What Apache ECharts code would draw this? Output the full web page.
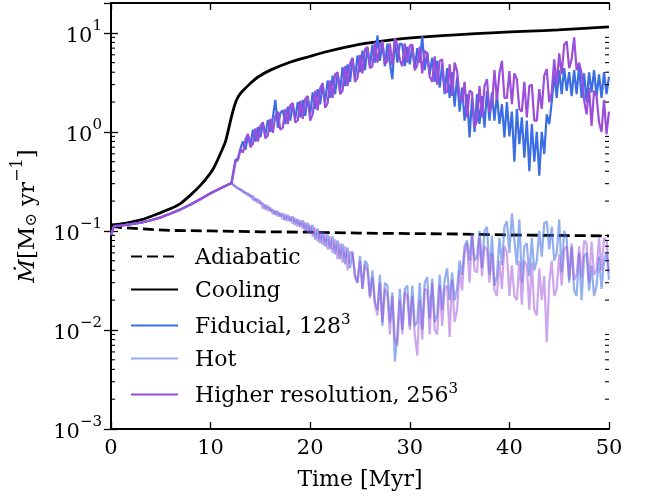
<!DOCTYPE html>
<html><head><meta charset="utf-8">
<script src="https://cdn.jsdelivr.net/npm/echarts@6/dist/echarts.min.js"></script>
<style>html,body{margin:0;padding:0;background:#fff}#c{width:654px;height:497px}</style>
</head><body><div id="c"></div>
<script>
// ---- data ----
const X_TICKS = [0, 10, 20, 30, 40, 50];
const Y_EXPONENTS = [-3, -2, -1, 0, 1];

const ADIA_T = [0, 1, 3, 6, 10, 15, 20, 25, 30, 35, 40, 45, 50];
const ADIA_V = [0.112, 0.108, 0.105, 0.101, 0.100, 0.098, 0.097, 0.095, 0.094, 0.093, 0.091, 0.090, 0.089];

const COOL_T = [0, 1, 2, 3, 4, 5, 6, 7, 8, 9, 9.7, 10.3, 10.7, 11.1, 11.5, 12.0, 12.3, 12.6, 13.0, 13.4, 14.0, 14.8, 16, 18.1, 20, 21.5, 24.8, 28.2, 31.5, 35, 38.2, 42, 44.9, 47.5, 50];
const COOL_V = [0.115, 0.118, 0.123, 0.129, 0.140, 0.153, 0.168, 0.19, 0.231, 0.29, 0.351, 0.43, 0.52, 0.64, 0.80, 1.3, 1.7, 2.1, 2.45, 2.7, 3.1, 3.6, 4.2, 5.1, 5.8, 6.4, 7.6, 8.5, 9.1, 9.6, 10.0, 10.4, 10.7, 11.1, 11.5];

// shared history before the cold/hot split
const EARLY_T = [0, 0.3, 1, 2, 3, 4, 5, 6, 7, 8, 9, 10, 11, 12.1];
const EARLY_V = [0.09, 0.112, 0.113, 0.117, 0.121, 0.128, 0.137, 0.15, 0.165, 0.185, 0.21, 0.24, 0.27, 0.305];

// sampled every 0.25 Myr from 12.25 to 50
const SAMPLE_T0 = 12.25, SAMPLE_DT = 0.25;

const FID_COLD = [
0.38,0.52,0.54,0.68, 0.80,0.66,0.92,0.74, 1.05,0.80,1.12,0.88, 1.22,0.92,1.32,1.00,
1.40,2.10,1.10,1.55, 1.65,1.20,1.80,1.30, 1.90,1.35,2.00,1.40, 2.10,1.45,2.25,1.50,
2.50,1.70,2.70,1.90, 3.00,2.00,3.30,2.20, 3.70,2.40,3.90,2.60, 4.50,2.90,4.80,3.20,
5.50,3.50,5.90,4.00, 6.60,4.20,7.00,4.60, 7.60,5.00,9.40,5.20, 8.00,4.60,7.80,5.00,
3.40,8.60,5.00,7.80, 7.60,4.60,7.20,4.80, 7.40,4.40,7.00,5.00, 9.20,4.20,6.40,3.80,
5.60,3.20,5.20,2.80, 4.80,2.40,4.40,2.20, 4.00,1.80,3.60,1.60, 2.80,1.30,2.40,0.88,
2.20,1.00,2.40,1.20, 2.30,1.10,2.60,1.30, 2.50,1.30,2.40,1.20, 1.90,0.88,2.00,0.90,
1.60,0.50,1.70,0.75, 1.40,0.55,1.30,0.40, 1.20,0.50,1.00,0.36, 1.00,0.60,1.50,1.20,
2.00,3.80,2.20,4.20, 2.40,4.40,2.60,4.00, 2.30,4.20,2.40,4.60, 2.20,3.90,2.00,4.00,
2.50,4.20,2.30,3.80, 2.20,4.00,2.40,3.60];

const FID_HOT = [
0.295,0.28,0.272,0.258, 0.255,0.238,0.24,0.222, 0.225,0.20,0.21,0.19, 0.19,0.165,0.18,0.158,
0.165,0.145,0.158,0.14, 0.15,0.128,0.145,0.125, 0.14,0.115,0.132,0.11, 0.128,0.10,0.12,0.095,
0.115,0.082,0.105,0.075, 0.10,0.07,0.092,0.065, 0.088,0.058,0.08,0.052, 0.074,0.046,0.068,0.042,
0.062,0.034,0.03,0.056, 0.026,0.05,0.046,0.022, 0.04,0.019,0.016,0.036, 0.011,0.03,0.028,0.012,
0.024,0.0048,0.009,0.026, 0.01,0.026,0.028,0.011, 0.028,0.011,0.012,0.03, 0.01,0.03,0.034,0.013,
0.033,0.012,0.014,0.036, 0.016,0.032,0.042,0.02, 0.038,0.02,0.026,0.05, 0.036,0.07,0.08,0.05,
0.095,0.05,0.055,0.1, 0.042,0.1,0.11,0.036, 0.09,0.028,0.035,0.085, 0.045,0.11,0.125,0.06,
0.15,0.08,0.045,0.13, 0.03,0.07,0.075,0.035, 0.085,0.04,0.05,0.1, 0.055,0.12,0.125,0.065,
0.11,0.05,0.06,0.13, 0.038,0.1,0.085,0.03, 0.07,0.025,0.022,0.06, 0.02,0.055,0.06,0.025,
0.045,0.022,0.028,0.055, 0.026,0.05,0.06,0.032];

const HR_COLD = [
0.36,0.50,0.52,0.66, 0.62,0.84,0.95,0.70, 0.76,1.08,0.80,1.15, 1.25,0.86,0.92,1.35,
0.98,1.45,1.60,1.05, 1.10,1.70,1.20,1.85, 1.95,1.25,1.30,2.05, 1.35,2.15,2.30,1.30,
1.50,2.60,1.65,2.75, 3.10,1.75,1.95,3.30, 2.20,3.80,4.00,2.40, 2.60,4.60,2.90,4.90,
5.60,3.20,3.50,6.00, 3.90,6.80,7.20,4.40, 4.60,8.00,5.00,7.60, 8.20,4.80,5.20,7.80,
4.70,8.80,7.60,5.30, 4.60,7.80,5.00,7.40, 7.60,4.20,4.70,7.20, 3.90,6.60,6.10,3.60,
3.20,5.80,3.00,5.20, 5.40,2.60,2.50,4.80, 2.30,5.00,4.10,2.20, 2.00,3.20,1.40,2.60,
2.50,1.10,1.30,2.90, 1.40,2.90,3.40,1.60, 1.80,4.20,2.10,3.90, 5.20,2.20,2.20,4.10,
1.90,3.90,3.40,1.70, 1.60,3.20,1.40,2.90, 3.00,1.30,1.30,2.70, 1.70,3.70,4.30,2.00,
2.50,5.40,3.00,6.20, 3.80,7.60,8.20,4.40, 5.40,9.00,4.20,5.00, 3.90,2.10,1.50,2.80,
1.15,2.60,2.30,1.25, 1.00,2.10,0.95,1.60];

const HR_HOT = [
0.29,0.282,0.265,0.265, 0.245,0.245,0.228,0.232, 0.205,0.215,0.19,0.2, 0.168,0.185,0.16,0.172,
0.148,0.16,0.14,0.152, 0.13,0.148,0.125,0.14, 0.118,0.135,0.11,0.128, 0.105,0.122,0.095,0.115,
0.088,0.108,0.078,0.1, 0.072,0.095,0.065,0.088, 0.06,0.082,0.052,0.075, 0.048,0.07,0.04,0.062,
0.058,0.036,0.03,0.05, 0.026,0.046,0.04,0.021, 0.034,0.018,0.014,0.03, 0.012,0.026,0.022,0.009,
0.022,0.008,0.007,0.02, 0.009,0.024,0.022,0.01, 0.022,0.009,0.0055,0.02, 0.008,0.026,0.025,0.009,
0.03,0.01,0.009,0.028, 0.011,0.026,0.028,0.0085, 0.032,0.012,0.016,0.04, 0.025,0.06,0.075,0.03,
0.09,0.04,0.038,0.085, 0.035,0.07,0.065,0.03, 0.06,0.025,0.022,0.05, 0.026,0.07,0.06,0.022,
0.045,0.022,0.02,0.05, 0.018,0.05,0.045,0.016, 0.048,0.016,0.014,0.042, 0.02,0.035,0.0075,0.03,
0.05,0.022,0.026,0.058, 0.028,0.065,0.07,0.032, 0.075,0.032,0.036,0.07, 0.034,0.08,0.075,0.03,
0.078,0.036,0.04,0.085, 0.04,0.085,0.08,0.038];

// ---- helpers ----
function pairs(ts, vs) { return ts.map((t, i) => [t, vs[i]]); }
function sampled(vs) {
  const early = pairs(EARLY_T, EARLY_V);
  return early.concat(vs.map((v, i) => [SAMPLE_T0 + SAMPLE_DT * i, v]));
}
const FONT = 'DejaVu Serif';
const C_FID = '#3b6de3', C_HR = '#9b4ddc';
const C_FID_HOT = 'rgba(59,109,227,0.55)', C_HR_HOT = 'rgba(155,77,220,0.5)';

const minorVals = [];
for (let e = Y_EXPONENTS[0]; e <= Y_EXPONENTS[Y_EXPONENTS.length - 1]; e++) {
  for (let k = 2; k <= 9; k++) { const v = k * Math.pow(10, e); if (v < 20) minorVals.push([0, v]); }
}

function yLabel(v) {
  const l = Math.log10(v), e = Math.round(l);
  if (Math.abs(l - e) > 1e-6 || Y_EXPONENTS.indexOf(e) < 0) return '';
  return '{b|10}{s|' + (e < 0 ? '\u2212' + (-e) : e) + '}';
}
const yRich = {
  b: { fontFamily: FONT, fontSize: 21, color: '#000', lineHeight: 28, verticalAlign: 'bottom' },
  s: { fontFamily: FONT, fontSize: 15, color: '#000', lineHeight: 28, verticalAlign: 'top' }
};

const chart = echarts.init(document.getElementById('c'), null, { renderer: 'canvas' });
chart.setOption({
  animation: false,
  backgroundColor: '#fff',
  grid: { left: 111, right: 45, top: 3, bottom: 68, containLabel: false },
  legend: {
    orient: 'vertical', left: 130, top: 247, padding: 0,
    itemWidth: 47, itemHeight: 14, itemGap: 11,
    itemStyle: { opacity: 0 },
    data: ['Adiabatic', 'Cooling', 'Fiducial, 128^3', 'Hot', 'Higher resolution, 256^3'],
    formatter: n => {
      const m = n.match(/^(.*)\^(\d)$/);
      return m ? '{t|' + m[1] + '}{s|' + m[2] + '}' : '{t|' + n + '}';
    },
    textStyle: {
      padding: [0, 0, 0, 12],
      rich: {
        t: { fontFamily: FONT, fontSize: 22, color: '#000', lineHeight: 25, verticalAlign: 'bottom' },
        s: { fontFamily: FONT, fontSize: 15, color: '#000', lineHeight: 25, verticalAlign: 'top' }
      }
    }
  },
  xAxis: [{
    type: 'value', min: X_TICKS[0], max: X_TICKS[X_TICKS.length - 1], interval: 10,
    name: 'Time [Myr]', nameLocation: 'middle', nameGap: 40,
    nameTextStyle: { fontFamily: FONT, fontSize: 22, color: '#000' },
    axisLine: { show: true, lineStyle: { color: '#000', width: 2 } },
    axisTick: { show: true, inside: true, length: 7, lineStyle: { color: '#000', width: 1.3 } },
    axisLabel: { fontFamily: FONT, fontSize: 21, color: '#000', margin: 9 },
    splitLine: { show: false }
  }, {
    type: 'value', position: 'top', min: X_TICKS[0], max: X_TICKS[X_TICKS.length - 1], interval: 10,
    axisLine: { show: true, lineStyle: { color: '#000', width: 2 } },
    axisTick: { show: true, inside: true, length: 7, lineStyle: { color: '#000', width: 1.3 } },
    axisLabel: { show: false }, splitLine: { show: false }
  }],
  yAxis: [{
    type: 'log', logBase: 10, min: 0.001, max: 20,
    name: '{it|\u1E40}{n|[M}{sub|\u2299}{n| yr}{sup|\u22121}{n|]}',
    nameLocation: 'middle', nameGap: 71, nameRotate: 90,
    nameTextStyle: {
      rich: {
        it: { fontFamily: FONT, fontStyle: 'italic', fontSize: 23, color: '#000', lineHeight: 30, verticalAlign: 'bottom' },
        n: { fontFamily: FONT, fontSize: 23, color: '#000', lineHeight: 30, verticalAlign: 'bottom' },
        sub: { fontFamily: FONT, fontSize: 16, color: '#000', lineHeight: 24, verticalAlign: 'bottom' },
        sup: { fontFamily: FONT, fontSize: 16, color: '#000', lineHeight: 30, verticalAlign: 'top' }
      }
    },
    axisLine: { show: true, lineStyle: { color: '#000', width: 2 } },
    axisTick: { show: true, inside: true, length: 7, lineStyle: { color: '#000', width: 1.3 } },
    axisLabel: { formatter: yLabel, rich: yRich, margin: 9, showMaxLabel: false },
    splitLine: { show: false }
  }, {
    type: 'log', logBase: 10, min: 0.001, max: 20, position: 'right',
    axisLine: { show: true, lineStyle: { color: '#000', width: 2 } },
    axisTick: { show: true, inside: true, length: 7, lineStyle: { color: '#000', width: 1.3 } },
    axisLabel: { show: false }, splitLine: { show: false }
  }],
  series: [
    { name: 'Adiabatic', type: 'line', data: pairs(ADIA_T, ADIA_V), showSymbol: false, symbol: 'none',
      lineStyle: { color: '#000', width: 2.8, type: [11, 5] }, itemStyle: { color: '#000' }, z: 3 },
    { name: 'Cooling', type: 'line', data: pairs(COOL_T, COOL_V), showSymbol: false, symbol: 'none', smooth: 0.2,
      lineStyle: { color: '#000', width: 2.8 }, itemStyle: { color: '#000' }, z: 3 },
    { name: 'Fiducial, 128^3', type: 'line', data: sampled(FID_COLD), showSymbol: false, symbol: 'none',
      lineStyle: { color: C_FID, width: 2.2 }, itemStyle: { color: C_FID }, z: 4 },
    { name: 'Hot', type: 'line', data: sampled(FID_HOT), showSymbol: false, symbol: 'none',
      lineStyle: { color: C_FID_HOT, width: 2.2 }, itemStyle: { color: C_FID_HOT }, z: 4 },
    { name: 'Higher resolution, 256^3', type: 'line', data: sampled(HR_COLD), showSymbol: false, symbol: 'none',
      lineStyle: { color: C_HR, width: 2.2 }, itemStyle: { color: C_HR }, z: 5 },
    { name: 'HR hot', type: 'line', data: sampled(HR_HOT), showSymbol: false, symbol: 'none',
      lineStyle: { color: C_HR_HOT, width: 2.2 }, itemStyle: { color: C_HR_HOT }, z: 5 },
    { name: 'minor', type: 'custom', data: minorVals, clip: false, silent: true, z: 10,
      encode: { x: 0, y: 1 },
      renderItem: (params, api) => {
        const v = api.value(1);
        const pl = api.coord([X_TICKS[0], v]), pr = api.coord([X_TICKS[X_TICKS.length - 1], v]);
        return { type: 'group', children: [
          { type: 'line', shape: { x1: pl[0], y1: pl[1], x2: pl[0] + 4, y2: pl[1] }, style: { stroke: '#000', lineWidth: 1.1 } },
          { type: 'line', shape: { x1: pr[0], y1: pr[1], x2: pr[0] - 4, y2: pr[1] }, style: { stroke: '#000', lineWidth: 1.1 } }
        ] };
      } }
  ]
});
</script></body></html>
